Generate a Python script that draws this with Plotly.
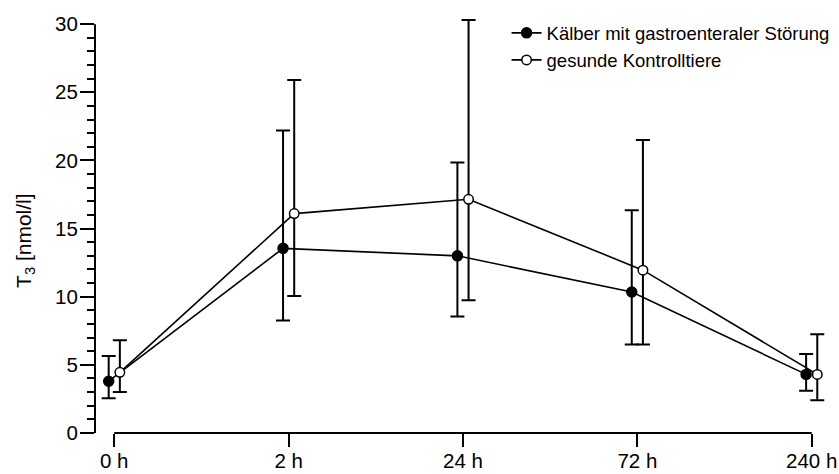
import plotly.graph_objects as go

categories = ["0 h", "2 h", "24 h", "72 h", "240 h"]

sick_mean = [3.8, 13.55, 13.0, 10.35, 4.3]
sick_upper = [5.65, 22.2, 19.85, 16.35, 5.8]
sick_lower = [2.55, 8.25, 8.55, 6.5, 3.1]

ctrl_mean = [4.45, 16.1, 17.15, 11.95, 4.3]
ctrl_upper = [6.8, 25.9, 30.3, 21.5, 7.25]
ctrl_lower = [3.0, 10.05, 9.75, 6.5, 2.4]

y_ticks = [0, 5, 10, 15, 20, 25, 30]
y_axis_max = 30

series_names = ["Kälber mit gastroenteraler Störung", "gesunde Kontrolltiere"]
y_title = "T<sub>3</sub> [nmol/l]"

FONT = "Liberation Sans, Arial, Helvetica, sans-serif"
dodge = 0.032
idx = list(range(len(categories)))

fig = go.Figure()

def add_series(name, mean, upper, lower, offset, filled):
    fig.add_trace(go.Scatter(
        x=[i + offset for i in idx],
        y=mean,
        name=name,
        mode="lines+markers",
        cliponaxis=False,
        line=dict(color="black", width=1.6),
        marker=dict(
            symbol="circle",
            size=10 if filled else 9.5,
            color="black" if filled else "white",
            line=dict(color="black", width=1.5),
        ),
        error_y=dict(
            type="data",
            symmetric=False,
            array=[u - m for u, m in zip(upper, mean)],
            arrayminus=[m - l for m, l in zip(mean, lower)],
            color="black",
            thickness=2,
            width=7,
        ),
    ))

add_series(series_names[0], sick_mean, sick_upper, sick_lower, -dodge, True)
add_series(series_names[1], ctrl_mean, ctrl_upper, ctrl_lower, dodge, False)

# x axis line from first to last category
fig.add_shape(type="line", xref="x", yref="paper",
              x0=idx[0], x1=idx[-1], y0=0, y1=0,
              line=dict(color="black", width=2), layer="above")
# y axis line from 0 to axis max
fig.add_shape(type="line", xref="paper", yref="y",
              x0=0, x1=0, y0=0, y1=y_axis_max,
              line=dict(color="black", width=2), layer="above")

fig.add_annotation(text=y_title, xref="paper", yref="paper",
                   x=-0.0958, y=0.463, xanchor="center", yanchor="middle",
                   textangle=-90, showarrow=False,
                   font=dict(size=21, family=FONT, color="black"))

fig.update_layout(
    width=839, height=474,
    margin=dict(l=95, r=13, t=16, b=41, autoexpand=False),
    paper_bgcolor="white", plot_bgcolor="white",
    font=dict(family=FONT, color="black", size=20),
    showlegend=True,
    legend=dict(x=0.563, y=1.004, xanchor="left", yanchor="top",
                font=dict(size=18.5, family=FONT), bgcolor="rgba(0,0,0,0)",
                tracegroupgap=0, itemwidth=30),
    xaxis=dict(
        range=[-0.1105, 4.082],
        automargin=False,
        tickmode="array", tickvals=idx, ticktext=categories,
        showline=False, showgrid=False, zeroline=False,
        ticks="outside", ticklen=13, tickwidth=2, tickcolor="black",
        tickfont=dict(size=20.5, family=FONT),
        ticklabelstandoff=-4,
    ),
    yaxis=dict(
        range=[0, 30.6],
        automargin=False,
        tickmode="array", tickvals=y_ticks,
        showline=False,
        showgrid=False, zeroline=False,
        ticks="outside", ticklen=14, tickwidth=2, tickcolor="black",
        tickfont=dict(size=20.5, family=FONT),
        ticklabelstandoff=-2,
        minor=dict(dtick=1, ticks="outside", ticklen=7, tickwidth=2, tickcolor="black", showgrid=False),
    ),
)

fig.write_html("out.html")
